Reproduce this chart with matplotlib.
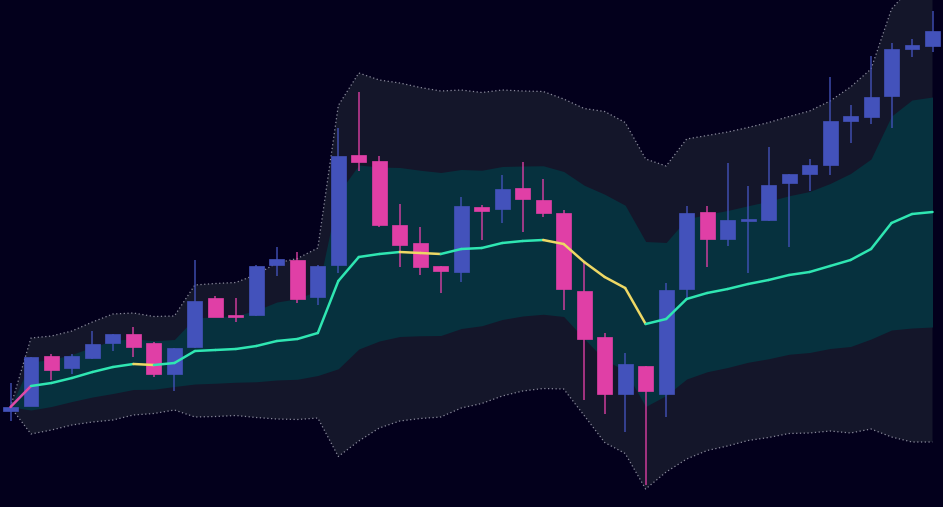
import matplotlib
matplotlib.use("Agg")
import matplotlib.pyplot as plt
import numpy as np

# ---- data (price units) ----
opens = [96, 101, 151, 139, 149, 164, 173, 164, 133, 160, 209, 191, 192, 242, 247, 210,
         242, 352, 346, 282, 264, 241, 235, 300, 298, 319, 307, 294, 216, 170, 113, 141,
         113, 218, 295, 268, 286, 287, 324, 333, 342, 386, 390, 411, 458, 461]
closes = [100, 150, 137, 151, 163, 173, 160, 133, 159, 206, 190, 190, 241, 248, 208, 241,
          351, 345, 282, 262, 240, 236, 301, 296, 318, 308, 294, 218, 168, 113, 143, 116,
          217, 294, 268, 287, 287, 322, 333, 342, 386, 391, 410, 458, 462, 476]
highs = [124, 150, 153, 153, 176, 173, 180, 165, 159, 247, 211, 209, 242, 260, 255, 242,
         379, 415, 351, 303, 280, 241, 310, 302, 332, 345, 328, 297, 244, 174, 154, 141,
         224, 301, 301, 344, 321, 360, 333, 348, 430, 402, 451, 464, 468, 496]
lows = [86, 101, 127, 133, 148, 156, 150, 130, 116, 159, 190, 185, 191, 231, 204, 202,
        234, 336, 280, 240, 232, 214, 225, 267, 284, 275, 290, 197, 107, 93, 75, 22,
        90, 209, 240, 261, 234, 286, 260, 316, 332, 364, 383, 379, 450, 455]

# moving-average mid line and band standard deviation
mid = [100, 121, 124, 129, 135, 140, 143, 142, 144, 156, 157, 158, 161, 166, 168, 174,
       226, 250, 253, 255, 254, 253, 258, 259, 264, 266, 267, 263, 245, 230, 219, 183,
       188, 208, 214, 218, 223, 227, 232, 235, 241, 247, 258, 284, 293, 295]
std = [0, 24, 23.5, 23.5, 25, 26.5, 25.5, 24.25, 23.5, 33, 33.25, 33.25, 35.75, 39, 40.25, 42.5,
       87.75, 92, 87, 84.5, 82.75, 81.5, 79.5, 77.75, 76.5, 75, 74.25, 72.5, 76.75, 82.75, 82.75, 82.5,
       76.5, 80, 78.75, 78.5, 78.25, 78.75, 79.25, 80.5, 82.5, 86.5, 90, 107, 114, 115]

BG = "#03001c"
OUTER = "#14162a"
INNER = "#06313e"
UP = "#4352bb"
DOWN = "#e03fa6"
GREEN = "#2fe6b2"
YELLOW = "#eed865"
PINK = "#e04aa8"

o = np.array(opens, float); c = np.array(closes, float)
h = np.array(highs, float); l = np.array(lows, float)
m = np.array(mid, float); s = np.array(std, float)
x = np.arange(len(o))

fig = plt.figure(figsize=(9.43, 5.07), dpi=100, facecolor=BG)
ax = fig.add_axes([0, 0, 1, 1])
ax.set_facecolor(BG)

# bands
ax.fill_between(x, m - 2 * s, m + 2 * s, color=OUTER, lw=0, zorder=1)
ax.fill_between(x, m - s, m + s, color=INNER, lw=0, zorder=2)
for band in (m + 2 * s, m - 2 * s):
    ax.plot(x, band, color="#8a8a9c", lw=0.9, ls=(0, (1, 2)), zorder=3)

# candles
up = c >= o
cols = np.where(up, UP, DOWN)
ax.vlines(x, l, h, colors=cols, lw=1.4, alpha=0.7, zorder=4)
bottom = np.minimum(o, c)
height = np.maximum(np.abs(c - o), 1.8)
ax.bar(x, height, bottom=bottom, width=0.73, color=cols, edgecolor=cols, lw=0.5, zorder=5)

# mid line coloured by direction
for i in range(1, len(m)):
    if i == 1:
        col = PINK
    elif m[i] >= m[i - 1]:
        col = GREEN
    else:
        col = YELLOW
    ax.plot(x[i - 1:i + 1], m[i - 1:i + 1], color=col, lw=1.8, solid_capstyle="round", zorder=6)

sp = (932.5 - 10.5) / 45
ax.set_xlim(-10.5 / sp, 45 + (943 - 932.5) / sp)
ax.set_ylim(0, 507)
ax.axis("off")

fig.savefig("out.png", dpi=100, facecolor=BG)
